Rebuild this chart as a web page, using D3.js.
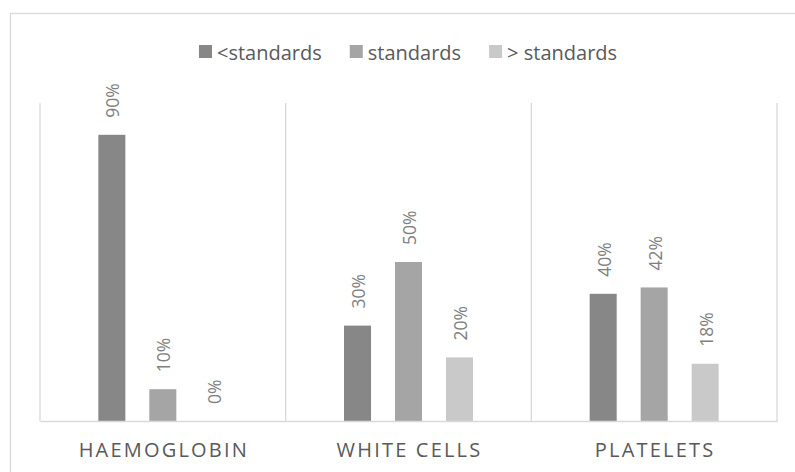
<!DOCTYPE html>
<html>
<head>
<meta charset="utf-8">
<script src="https://cdn.jsdelivr.net/npm/d3@7"></script>
<style>
  html, body { margin: 0; padding: 0; background: #ffffff; }
  svg { display: block; font-family: "Open Sans", "Liberation Sans", sans-serif; }
</style>
</head>
<body>
<svg id="chart" width="795" height="472"></svg>
<script>
// Blood test results by category, share of patients per range
const categories = ["HAEMOGLOBIN", "WHITE CELLS", "PLATELETS"];
const seriesNames = ["<standards", "standards", "> standards"];
const belowStandards = [0.90, 0.30, 0.40];
const withinStandards = [0.10, 0.50, 0.42];
const aboveStandards = [0.00, 0.20, 0.18];
const seriesColors = ["#878787", "#a5a5a5", "#c9c9c9"];

const seriesValues = [belowStandards, withinStandards, aboveStandards];

const svg = d3.select("#chart");
const W = 795, H = 472;
const plot = { left: 40, right: 777, top: 103, bottom: 421 };

// Chart frame
svg.append("rect")
  .attr("x", 10.5).attr("y", 13.5)
  .attr("width", W + 20).attr("height", H + 20)
  .attr("fill", "#ffffff")
  .attr("stroke", "#d9d9d9").attr("stroke-width", 1.3);

const x0 = d3.scaleBand()
  .domain(categories)
  .range([plot.left, plot.right])
  .paddingInner(0).paddingOuter(0);

const x1 = d3.scaleBand()
  .domain(seriesNames)
  .range([0, x0.bandwidth()])
  .paddingInner(0.47)
  .paddingOuter(1.144);

const y = d3.scaleLinear().domain([0, 1]).range([plot.bottom, plot.top]);

// Category separators
const bounds = categories.map(c => x0(c)).concat([x0.range()[1]]);
svg.append("g").selectAll("line")
  .data(bounds)
  .join("line")
  .attr("x1", d => d).attr("x2", d => d)
  .attr("y1", y(1)).attr("y2", y(0))
  .attr("stroke", "#d9d9d9").attr("stroke-width", 1.3);

// Bars
const rows = [];
categories.forEach((c, i) => {
  seriesNames.forEach((s, j) => {
    rows.push({ cat: c, series: s, value: seriesValues[j][i], color: seriesColors[j] });
  });
});

svg.append("g").selectAll("rect")
  .data(rows)
  .join("rect")
  .attr("x", d => x0(d.cat) + x1(d.series))
  .attr("y", d => y(d.value))
  .attr("width", x1.bandwidth())
  .attr("height", d => y(0) - y(d.value))
  .attr("fill", d => d.color);

// Baseline axis
const xAxis = svg.append("g")
  .attr("transform", `translate(0,${y(0)})`)
  .call(d3.axisBottom(x0).tickSize(0).tickPadding(0));
xAxis.select(".domain").attr("stroke", "#d9d9d9").attr("stroke-width", 1.3);
xAxis.selectAll(".tick text").remove();

// Category labels
svg.append("g").selectAll("text")
  .data(categories)
  .join("text")
  .attr("x", d => x0(d) + x0.bandwidth() / 2 + 1)
  .attr("y", 457)
  .attr("text-anchor", "middle")
  .attr("font-size", 20)
  .attr("letter-spacing", 2.2)
  .attr("fill", "#595959")
  .text(d => d);

// Value labels, rotated above each bar
const fmt = d3.format(".0%");
svg.append("g").selectAll("text")
  .data(rows)
  .join("text")
  .attr("transform", d => {
    const cx = x0(d.cat) + x1(d.series) + x1.bandwidth() / 2 + 7.5;
    return `translate(${cx},${y(d.value) - 17}) rotate(-90)`;
  })
  .attr("text-anchor", "start")
  .attr("font-size", 17.5)
  .attr("fill", "#7f7f7f")
  .text(d => fmt(d.value));

// Legend
const legend = svg.append("g");
let lx = 199;
seriesNames.forEach((name, j) => {
  legend.append("rect")
    .attr("x", lx).attr("y", 45)
    .attr("width", 13).attr("height", 13)
    .attr("fill", seriesColors[j]);
  const t = legend.append("text")
    .attr("x", lx + 18).attr("y", 60)
    .attr("font-size", 20)
    .attr("fill", "#595959")
    .text(name);
  lx += 18 + t.node().getComputedTextLength() + 28;
});
</script>
</body>
</html>
